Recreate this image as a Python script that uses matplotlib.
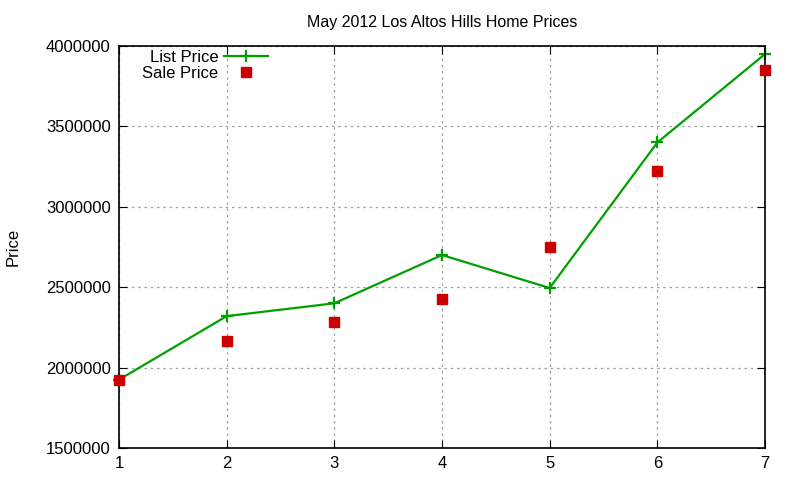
import matplotlib
matplotlib.use("Agg")
import matplotlib.pyplot as plt

# values
months = [1, 2, 3, 4, 5, 6, 7]
list_price = [1925000, 2320000, 2400000, 2700000, 2495000, 3400000, 3950000]
sale_price = [1925000, 2165000, 2285000, 2425000, 2750000, 3220000, 3850000]
y_ticks = [1500000, 2000000, 2500000, 3000000, 3500000, 4000000]

plt.rcParams['font.family'] = ['Liberation Sans', 'DejaVu Sans']

fig = plt.figure(figsize=(8, 4.8), dpi=100)
ax = fig.add_axes([119 / 800, 32 / 480, 646 / 800, 402 / 480])

ax.plot(months, list_price, color='#00a000', linewidth=1.6, marker='+',
        markersize=9, markeredgewidth=1.6, label='List Price', clip_on=False)
ax.plot(months, sale_price, color='#cc0000', linestyle='none', marker='s',
        markersize=6.5, label='Sale Price', clip_on=False, zorder=3)

ax.set_xlim(1, 7)
ax.set_ylim(1500000, 4000000)
ax.set_xticks(months)
ax.set_yticks(y_ticks)
ax.set_yticklabels([str(v) for v in y_ticks])
ax.tick_params(direction='in', top=True, right=True, labelsize=12, length=6, pad=6)
ax.grid(True, color='#a0a0a0', linestyle=(0, (2, 3)), linewidth=0.9)
for s in ax.spines.values():
    s.set_linewidth(1.2)

ax.set_ylabel('Price', fontsize=12, labelpad=18)
ax.set_title('May 2012 Los Altos Hills Home Prices', fontsize=11.5, pad=14)

leg = ax.legend(loc='upper left', bbox_to_anchor=(0.018, 1.02), frameon=False,
                markerfirst=False, fontsize=12, handlelength=2.6,
                labelspacing=0.1, handletextpad=0.35, borderaxespad=0.3)

fig.savefig('out.png', dpi=100)
